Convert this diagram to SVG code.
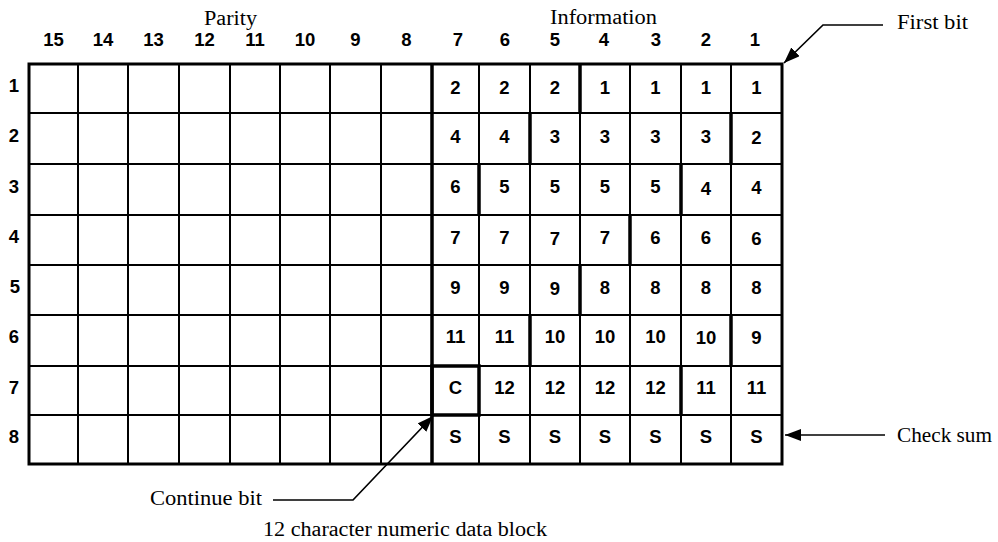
<svg xmlns="http://www.w3.org/2000/svg" width="998" height="542" viewBox="0 0 998 542">
<style>
.bg{fill:#fff}
.thin{stroke:#000;stroke-width:2;fill:none}
.thick{stroke:#000;stroke-width:3.5;fill:none}
.border{stroke:#000;stroke-width:3;fill:none}
.num{font-family:"Liberation Sans Narrow","Liberation Sans",Arial,sans-serif;font-weight:bold;font-size:18.5px;text-anchor:middle;fill:#000}
.lbl{font-family:"Liberation Serif","Times New Roman",serif;font-size:20px;fill:#000}
.conn{stroke:#000;stroke-width:1.7;fill:none}
</style>
<defs>
<marker id="ah" markerUnits="userSpaceOnUse" markerWidth="16" markerHeight="12" refX="16" refY="6" orient="auto">
<path d="M0,0 L16,6 L0,12 z" fill="#000"/>
</marker>
</defs>
<rect class="bg" x="0" y="0" width="998" height="542"/>

<g id="titles">
<text class="lbl" x="204" y="25" textLength="53" lengthAdjust="spacingAndGlyphs">Parity</text>
<text class="lbl" x="550" y="24" textLength="107" lengthAdjust="spacingAndGlyphs">Information</text>
</g>

<g id="column-headers" class="num">
<text x="53.5" y="46">15</text>
<text x="103" y="46">14</text>
<text x="153.5" y="46">13</text>
<text x="204.5" y="46">12</text>
<text x="255" y="46">11</text>
<text x="305" y="46">10</text>
<text x="355.5" y="46">9</text>
<text x="406.5" y="46">8</text>
<text x="458" y="46">7</text>
<text x="505" y="46">6</text>
<text x="555" y="46">5</text>
<text x="604" y="46">4</text>
<text x="656" y="46">3</text>
<text x="706" y="46">2</text>
<text x="755" y="46">1</text>
</g>

<g id="row-headers" class="num">
<text x="14" y="92">1</text>
<text x="14" y="142">2</text>
<text x="14" y="193">3</text>
<text x="14" y="243">4</text>
<text x="15" y="293">5</text>
<text x="14" y="343">6</text>
<text x="14" y="394">7</text>
<text x="14" y="443">8</text>
</g>

<g id="grid">
<g class="thin">
<path d="M29,113H782 M29,164H782 M29,215H782 M29,265H782 M29,315H782 M29,366H782 M29,415H782"/>
<path d="M78,64V464 M128,64V464 M179,64V464 M230,64V464 M280,64V464 M330,64V464 M381,64V464 M479,64V464 M530,64V464 M580,64V464 M630,64V464 M681,64V464 M731,64V464"/>
</g>
<g class="thick">
<path d="M432,64V464"/>
<path d="M580,64V113 M530,113V164 M731,113V164 M479,164V215 M681,164V215 M630,215V265 M580,265V315 M530,315V366 M731,315V366 M681,366V415"/>
<rect x="432" y="366" width="47" height="49"/>
</g>
<rect class="border" x="29" y="64" width="753" height="400"/>
</g>

<g id="cells" class="num">
<g id="row1"><text x="455.5" y="94">2</text><text x="504.5" y="94">2</text><text x="555" y="94">2</text><text x="605" y="94">1</text><text x="655.5" y="94">1</text><text x="706" y="94">1</text><text x="756.5" y="94">1</text></g>
<g id="row2"><text x="455.5" y="143">4</text><text x="504.5" y="143">4</text><text x="555" y="143">3</text><text x="605" y="143">3</text><text x="655.5" y="143">3</text><text x="706" y="143">3</text><text x="756.5" y="144">2</text></g>
<g id="row3"><text x="455.5" y="193">6</text><text x="504.5" y="193">5</text><text x="555" y="193">5</text><text x="605" y="193">5</text><text x="655.5" y="193">5</text><text x="706" y="195">4</text><text x="756.5" y="194">4</text></g>
<g id="row4"><text x="455.5" y="244">7</text><text x="504.5" y="244">7</text><text x="555" y="245">7</text><text x="605" y="244">7</text><text x="655.5" y="244">6</text><text x="706" y="244">6</text><text x="756.5" y="245">6</text></g>
<g id="row5"><text x="455.5" y="294">9</text><text x="504.5" y="294">9</text><text x="555" y="295">9</text><text x="605" y="294">8</text><text x="655.5" y="294">8</text><text x="706" y="294">8</text><text x="756.5" y="294">8</text></g>
<g id="row6"><text x="455.5" y="343">11</text><text x="504.5" y="343">11</text><text x="555" y="343">10</text><text x="605" y="343">10</text><text x="655.5" y="343">10</text><text x="706" y="344">10</text><text x="756.5" y="344">9</text></g>
<g id="row7"><text x="455.5" y="394">C</text><text x="504.5" y="394">12</text><text x="555" y="394">12</text><text x="605" y="394">12</text><text x="655.5" y="394">12</text><text x="706" y="394">11</text><text x="756.5" y="394">11</text></g>
<g id="row8"><text x="455.5" y="443">S</text><text x="504.5" y="443">S</text><text x="555" y="443">S</text><text x="605" y="443">S</text><text x="655.5" y="443">S</text><text x="706" y="443">S</text><text x="756.5" y="443">S</text></g>
</g>

<g id="annotations">
<text id="first-bit" class="lbl" x="897" y="29" textLength="71" lengthAdjust="spacingAndGlyphs">First bit</text>
<text id="check-sum" class="lbl" x="897" y="442" textLength="95" lengthAdjust="spacingAndGlyphs">Check sum</text>
<text id="continue-bit" class="lbl" x="150" y="505" textLength="112" lengthAdjust="spacingAndGlyphs">Continue bit</text>
<text id="caption" class="lbl" x="263" y="536" textLength="284" lengthAdjust="spacingAndGlyphs">12 character numeric data block</text>
</g>

<g id="connectors">
<polyline class="conn" points="883,25 823,25 784,63" marker-end="url(#ah)"/>
<polyline class="conn" points="885,435 785,435" marker-end="url(#ah)"/>
<polyline class="conn" points="273,500 353,500 433,416" marker-end="url(#ah)"/>
</g>
</svg>
